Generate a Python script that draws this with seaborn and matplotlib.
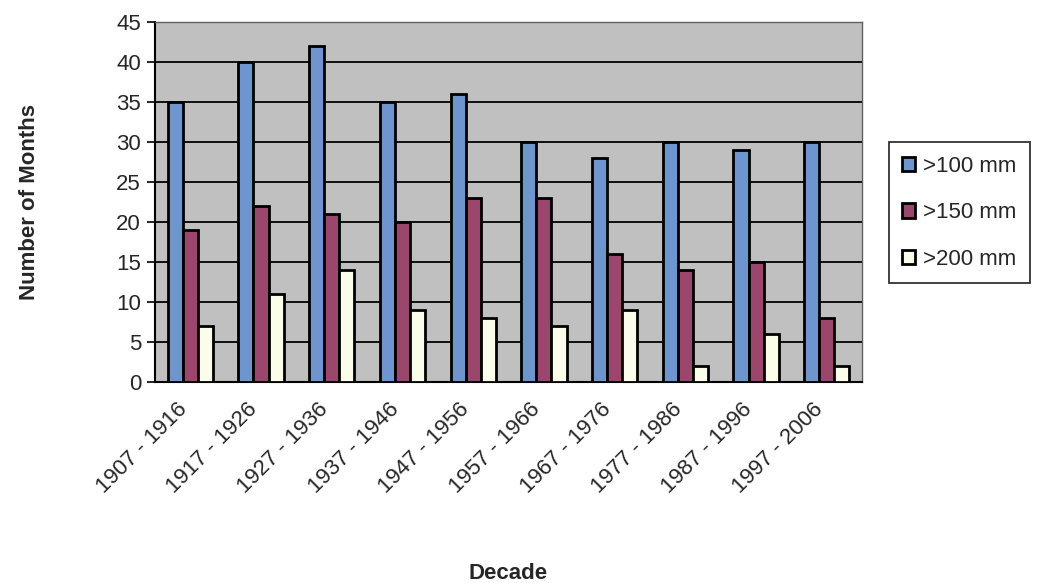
import numpy as np
import pandas as pd
import matplotlib
matplotlib.use("Agg")
import matplotlib.pyplot as plt
import seaborn as sns

# Data
decades = ["1907 - 1916", "1917 - 1926", "1927 - 1936", "1937 - 1946", "1947 - 1956",
           "1957 - 1966", "1967 - 1976", "1977 - 1986", "1987 - 1996", "1997 - 2006"]
thresholds = [">100 mm", ">150 mm", ">200 mm"]
over_100 = [35, 40, 42, 35, 36, 30, 28, 30, 29, 30]
over_150 = [19, 22, 21, 20, 23, 23, 16, 14, 15, 8]
over_200 = [7, 11, 14, 9, 8, 7, 9, 2, 6, 2]
colors = ["#5E92DE", "#A8386C", "#FFFFE8"]

df = pd.DataFrame({
    "Decade": decades * 3,
    "Threshold": [thresholds[0]] * 10 + [thresholds[1]] * 10 + [thresholds[2]] * 10,
    "Months": over_100 + over_150 + over_200,
})

sns.set_style("white")
plt.rcParams['font.family'] = ['Liberation Sans', 'DejaVu Sans']

fig = plt.figure(figsize=(10.4, 5.83), dpi=100)
ax = fig.add_axes([0.149, 0.345, 0.68, 0.617])
ax.set_facecolor("#C0C0C0")

sns.barplot(data=df, x="Decade", y="Months", hue="Threshold", palette=colors,
            edgecolor="black", linewidth=2, width=0.64, ax=ax, zorder=3)

ax.set_ylim(0, 45)
ax.set_yticks(np.arange(0, 46, 5))
ax.set_xlim(-0.5, len(decades) - 0.5)
ax.yaxis.grid(True, color="black", linewidth=1.3, zorder=0)
ax.set_axisbelow(True)

# labels sit a little left of the group centre, as in the original
ax.set_xticks(np.arange(len(decades)) - 0.2)
ax.set_xticklabels(decades, rotation=45, ha="right", rotation_mode="anchor", fontsize=16)
ax.set_xticks(np.arange(-0.5, len(decades), 1), minor=True)
ax.tick_params(axis="x", which="major", length=0, pad=12)
ax.tick_params(axis="x", which="minor", length=6, width=1.2, color="black", direction="out")
ax.tick_params(axis="y", length=6, width=1.2, color="black", direction="out", labelsize=16, left=True, pad=4)

for side in ["left", "bottom"]:
    ax.spines[side].set_color("black")
    ax.spines[side].set_linewidth(1.5)
for side in ["top", "right"]:
    ax.spines[side].set_color("#606060")
    ax.spines[side].set_linewidth(1)

ax.set_xlabel("Decade", fontsize=16, fontweight="bold", labelpad=47)
ax.set_ylabel("Number of Months", fontsize=16, fontweight="bold", labelpad=55)

handles, labels = ax.get_legend_handles_labels()
leg = ax.legend(handles, labels, loc="center left", bbox_to_anchor=(1.028, 0.47),
                fontsize=16, frameon=True, fancybox=False, edgecolor="black",
                handlelength=0.6, handleheight=0.6, handletextpad=0.35,
                labelspacing=1.15, borderpad=0.6, borderaxespad=0.3)
leg.get_frame().set_linewidth(1.3)

plt.savefig("out.png", dpi=100)
plt.close()
